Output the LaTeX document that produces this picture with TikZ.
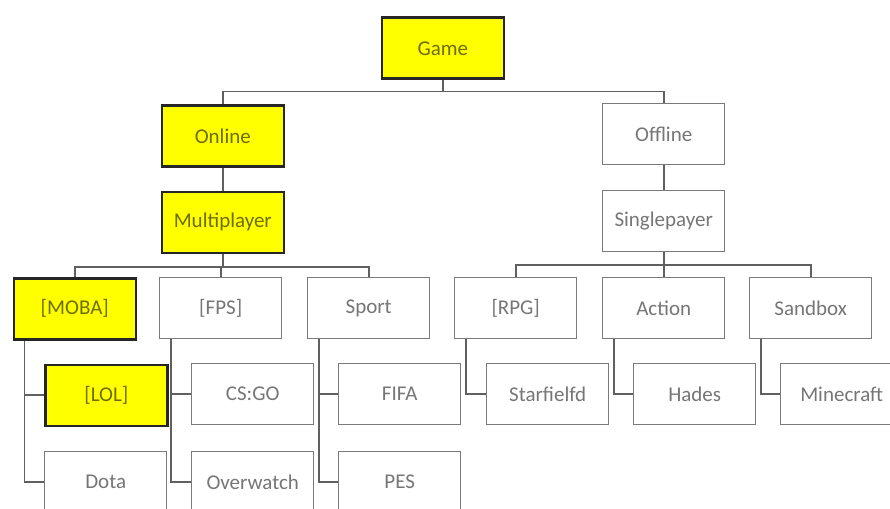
\documentclass[tikz,border=0pt]{standalone}
\usepackage{fontspec}
\setmainfont{Carlito}
\definecolor{hl}{HTML}{FFFF00}
\definecolor{hltext}{HTML}{6E6E00}
\definecolor{plaintext}{HTML}{767676}
\definecolor{plainborder}{HTML}{7A7A7A}
\definecolor{wire}{HTML}{606060}
\begin{document}
\begin{tikzpicture}[x=1pt,y=-1pt,
  box/.style={draw=plainborder,line width=1.4pt,fill=white,text=plaintext,
    minimum width=122pt,minimum height=61pt,inner sep=0pt,anchor=north west,
    font=\fontsize{21}{24}\selectfont},
  hlbox/.style={box,draw=black!85,line width=2.6pt,fill=hl,text=hltext},
  wireline/.style={draw=wire,line width=1.8pt}]
\useasboundingbox (0,0) rectangle (890,508);
% level 0
\node[hlbox] (game) at (380.5,16.5) {Game};
% level 1
\node[hlbox] (online) at (160.5,104) {Online};
\node[box] (offline) at (602,103) {Offline};
% level 2
\node[hlbox] (multi) at (160.5,190.5) {Multiplayer};
\node[box] (single) at (602,190) {Singlepayer};
% level 3
\node[hlbox] (moba) at (12.5,277) {[MOBA]};
\node[box] (fps) at (159,277) {[FPS]};
\node[box] (sport) at (307,277) {Sport};
\node[box] (rpg) at (454,277) {[RPG]};
\node[box] (action) at (602,277) {Action};
\node[box] (sandbox) at (749,277) {Sandbox};
% level 4
\node[hlbox] (lol) at (44,363.5) {[LOL]};
\node[box] (dota) at (44,451) {Dota};
\node[box] (csgo) at (191,363) {CS:GO};
\node[box] (overwatch) at (191,451) {Overwatch};
\node[box] (fifa) at (338,363) {FIFA};
\node[box] (pes) at (338,451) {PES};
\node[box] (starf) at (486,363) {Starfielfd};
\node[box] (hades) at (633,363) {Hades};
\node[box] (minec) at (780,363) {Minecraft};
% connectors: top
\draw[wireline] (game.south) -- ++(0,11.5) -| (online.north);
\draw[wireline] (game.south) -- ++(0,11.5) -| (offline.north);
\draw[wireline] (online) -- (multi);
\draw[wireline] (offline) -- (single);
% multiplayer bus
\draw[wireline] (multi.south) -- ++(0,13) -| (moba.north);
\draw[wireline] (multi.south) -- ++(0,13) -| (fps.north);
\draw[wireline] (multi.south) -- ++(0,13) -| (sport.north);
% singleplayer bus
\draw[wireline] (single.south) -- ++(0,12.5) -| (rpg.north);
\draw[wireline] (single.south) -- ++(0,12.5) -| (action.north);
\draw[wireline] (single.south) -- ++(0,12.5) -| (sandbox.north);
% children
\foreach \p/\c in {moba/lol,moba/dota,fps/csgo,fps/overwatch,sport/fifa,sport/pes,rpg/starf,action/hades,sandbox/minec}{
  \draw[wireline] ([xshift=12pt]\p.south west) |- (\c.west);
}
\end{tikzpicture}
\end{document}
